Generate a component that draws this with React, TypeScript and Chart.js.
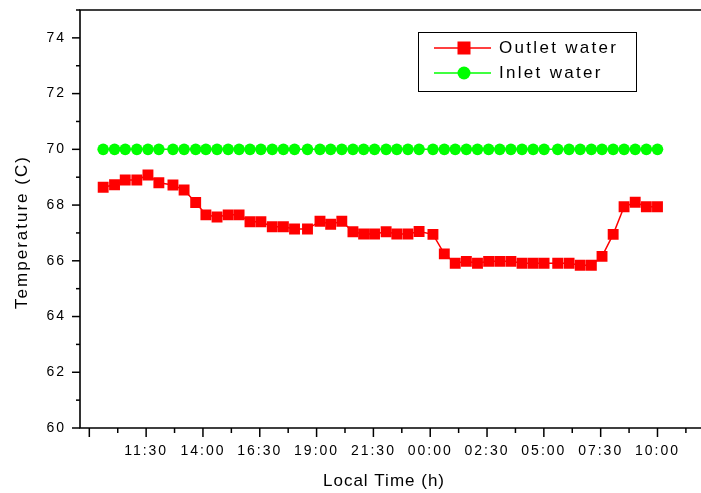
import { useEffect, useRef } from 'react';
import { Chart, registerables } from 'chart.js';

Chart.register(...registerables);

// Local time in hours since midnight of day 1 (values > 24 are next day)
const timeHours = [
  9.61, 10.11, 10.58, 11.09, 11.58, 12.06, 12.68, 13.17, 13.68, 14.13,
  14.62, 15.11, 15.59, 16.07, 16.55, 17.05, 17.54, 18.03, 18.6, 19.15,
  19.62, 20.11, 20.6, 21.07, 21.55, 22.06, 22.53, 23.02, 23.51, 24.12,
  24.62, 25.1, 25.59, 26.08, 26.57, 27.06, 27.55, 28.04, 28.53, 29.01,
  29.61, 30.11, 30.6, 31.09, 31.56, 32.05, 32.53, 33.02, 33.51, 34.0,
];

const outletTemp = [
  68.64, 68.73, 68.9, 68.9, 69.08, 68.8, 68.72, 68.54, 68.09, 67.65,
  67.57, 67.65, 67.65, 67.4, 67.4, 67.22, 67.22, 67.14, 67.14, 67.42,
  67.31, 67.42, 67.04, 66.96, 66.96, 67.04, 66.96, 66.96, 67.05, 66.95,
  66.25, 65.91, 65.98, 65.91, 65.98, 65.98, 65.98, 65.91, 65.91, 65.91,
  65.91, 65.91, 65.84, 65.84, 66.16, 66.95, 67.94, 68.1, 67.94, 67.94,
];

const inletTemp = [
  70, 70, 70, 70, 70, 70, 70, 70, 70, 70,
  70, 70, 70, 70, 70, 70, 70, 70, 70, 70,
  70, 70, 70, 70, 70, 70, 70, 70, 70, 70,
  70, 70, 70, 70, 70, 70, 70, 70, 70, 70,
  70, 70, 70, 70, 70, 70, 70, 70, 70, 70,
];

const xTickHours = [9, 11.5, 14, 16.5, 19, 21.5, 24, 26.5, 29, 31.5, 34];
const xUnlabeledTicks = [9];
const yTickValues = [60, 62, 64, 66, 68, 70, 72, 74];
const seriesNames = ['Outlet water', 'Inlet water'];
const xTitle = 'Local Time (h)';
const yTitle = 'Temperature (C)';

const FONT = '"Liberation Sans", Arial, sans-serif';
const RED = '#FF0000';
const GREEN = '#00FF00';

function fmtHour(v: number): string {
  const total = Math.round(v * 60);
  const h = Math.floor(total / 60) % 24;
  const m = total % 60;
  return String(h).padStart(2, '0') + ':' + String(m).padStart(2, '0');
}

const framePlugin = {
  id: 'frame',
  beforeDraw(chart: any) {
    (chart.ctx as any).letterSpacing = '2px';
  },
  afterDraw(chart: any) {
    const ctx = chart.ctx as CanvasRenderingContext2D;
    const { left, right, top, bottom } = chart.chartArea;
    const xs = chart.scales.x;
    const ys = chart.scales.y;
    ctx.save();
    (ctx as any).letterSpacing = '0px';
    ctx.strokeStyle = '#000';
    ctx.lineWidth = 1.6;
    ctx.beginPath();
    ctx.moveTo(left, top);
    ctx.lineTo(left, bottom);
    ctx.lineTo(right, bottom);
    ctx.lineTo(right, top);
    ctx.closePath();
    ctx.stroke();

    ctx.lineWidth = 1.5;
    // y ticks (major every 2, minor every 1)
    for (let v = ys.min; v <= ys.max; v += 1) {
      const y = ys.getPixelForValue(v);
      const len = yTickValues.includes(v) ? 8 : 4;
      ctx.beginPath();
      ctx.moveTo(left - len, y);
      ctx.lineTo(left, y);
      ctx.stroke();
    }
    // x ticks (major at labelled positions, minor halfway)
    const step = xTickHours[1] - xTickHours[0];
    const all: { v: number; major: boolean }[] = [];
    for (let v = xTickHours[0]; v <= xs.max + 0.01; v += step) {
      all.push({ v, major: true });
      all.push({ v: v + step / 2, major: false });
    }
    all.forEach(({ v, major }) => {
      const x = xs.getPixelForValue(v);
      if (x < left - 0.5 || x > right + 0.5) return;
      ctx.beginPath();
      ctx.moveTo(x, bottom);
      ctx.lineTo(x, bottom + (major ? 9 : 5));
      ctx.stroke();
    });

    // axis titles
    ctx.fillStyle = '#000';
    ctx.font = `17px ${FONT}`;
    ctx.textAlign = 'center';
    ctx.textBaseline = 'middle';
    (ctx as any).letterSpacing = '1px';
    ctx.fillText(xTitle, 384, 481);
    ctx.save();
    ctx.translate(22, 232);
    ctx.rotate(-Math.PI / 2);
    (ctx as any).letterSpacing = '2px';
    ctx.fillText(yTitle, 0, 0);
    ctx.restore();

    // legend
    const bx = 418, by = 32, bw = 218, bh = 59;
    ctx.fillStyle = '#fff';
    ctx.fillRect(bx, by, bw, bh);
    ctx.strokeStyle = '#000';
    ctx.lineWidth = 1;
    ctx.strokeRect(bx + 0.5, by + 0.5, bw, bh);
    const rows = [
      { name: seriesNames[0], color: RED, y: 48, shape: 'rect' },
      { name: seriesNames[1], color: GREEN, y: 73, shape: 'circle' },
    ];
    rows.forEach((r) => {
      ctx.strokeStyle = r.color;
      ctx.lineWidth = 1.5;
      ctx.beginPath();
      ctx.moveTo(434, r.y);
      ctx.lineTo(491, r.y);
      ctx.stroke();
      ctx.fillStyle = r.color;
      if (r.shape === 'rect') {
        ctx.fillRect(464 - 6.5, r.y - 6.5, 13, 13);
      } else {
        ctx.beginPath();
        ctx.arc(464, r.y, 6.5, 0, Math.PI * 2);
        ctx.fill();
      }
      ctx.fillStyle = '#000';
      ctx.font = `17px ${FONT}`;
      ctx.textAlign = 'left';
      ctx.textBaseline = 'middle';
      (ctx as any).letterSpacing = '2.3px';
      ctx.fillText(r.name, 499, r.y);
    });
    ctx.restore();
    (ctx as any).letterSpacing = '0px';
  },
};

export default function App() {
  const ref = useRef<HTMLCanvasElement | null>(null);
  useEffect(() => {
    if (!ref.current) return;
    const chart = new Chart(ref.current, {
      type: 'line',
      data: {
        datasets: [
          {
            label: seriesNames[0],
            data: timeHours.map((t, i) => ({ x: t, y: outletTemp[i] })),
            borderColor: RED,
            backgroundColor: RED,
            borderWidth: 1.5,
            pointStyle: 'rect',
            pointRadius: 7.7,
            pointBorderWidth: 0,
            tension: 0,
          },
          {
            label: seriesNames[1],
            data: timeHours.map((t, i) => ({ x: t, y: inletTemp[i] })),
            borderColor: GREEN,
            backgroundColor: GREEN,
            borderWidth: 1.5,
            pointStyle: 'circle',
            pointRadius: 5.8,
            pointBorderWidth: 0,
            tension: 0,
          },
        ],
      },
      options: {
        responsive: false,
        animation: false,
        layout: { padding: { left: 0, right: 3, top: 10, bottom: 0 } },
        plugins: { legend: { display: false }, tooltip: { enabled: false } },
        scales: {
          x: {
            type: 'linear',
            min: 8.59,
            max: 36.5,
            grid: { display: false, drawTicks: false },
            border: { display: false },
            afterBuildTicks: (s: any) => {
              s.ticks = xTickHours.map((v) => ({ value: v }));
            },
            afterFit: (s: any) => {
              s.height = 65;
              s.paddingLeft = 0;
              s.paddingRight = 0;
            },
            ticks: {
              autoSkip: false,
              maxRotation: 0,
              padding: 15,
              color: '#000',
              font: { family: FONT, size: 14 },
              callback: (v: any) => (xUnlabeledTicks.includes(Number(v)) ? '' : fmtHour(Number(v))),
            },
          },
          y: {
            min: 60,
            max: 75,
            grid: { display: false, drawTicks: false },
            border: { display: false },
            afterBuildTicks: (s: any) => {
              s.ticks = yTickValues.map((v) => ({ value: v }));
            },
            afterFit: (s: any) => {
              s.width = 80;
              s.paddingTop = 0;
              s.paddingBottom = 0;
            },
            ticks: {
              padding: 14,
              color: '#000',
              font: { family: FONT, size: 14 },
              callback: (v: any) => String(v),
            },
          },
        },
      },
      plugins: [framePlugin],
    });
    return () => chart.destroy();
  }, []);
  return (
    <div
      style={{
        position: 'fixed',
        left: 0,
        top: 0,
        width: 701,
        height: 493,
        overflow: 'hidden',
        background: '#fff',
      }}
    >
      <canvas ref={ref} width={722} height={493} style={{ display: 'block' }} />
    </div>
  );
}
